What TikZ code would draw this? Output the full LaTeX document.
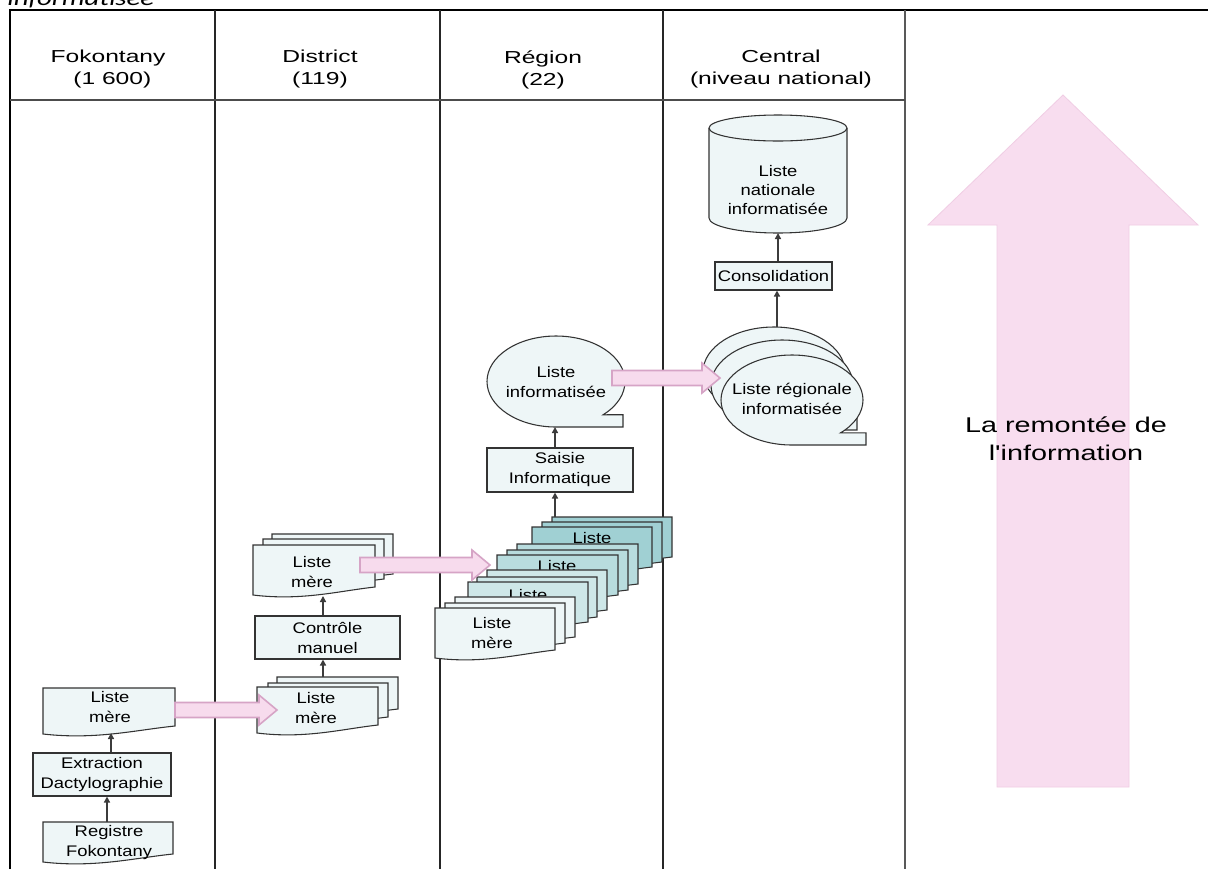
\documentclass[tikz,border=0pt]{standalone}
\usepackage{fontspec}
\setmainfont[FakeStretch=1.2]{Liberation Sans}
\newfontfamily\hdrfont[FakeStretch=1.42]{Liberation Sans}
\newfontfamily\bigfont[FakeStretch=1.35]{Liberation Sans}
\newfontfamily\capfont[FakeStretch=1.35]{Carlito}
\usetikzlibrary{arrows.meta}
\definecolor{boxfill}{RGB}{238,246,247}
\definecolor{stb}{RGB}{206,231,232}
\definecolor{stc}{RGB}{184,220,222}
\definecolor{std}{RGB}{160,208,211}
\definecolor{pinkfill}{RGB}{247,219,237}
\definecolor{pinkdraw}{RGB}{214,164,198}
\definecolor{bigpink}{RGB}{248,221,239}
\definecolor{bigpinkdraw}{RGB}{240,205,228}
\definecolor{linegray}{RGB}{60,60,60}
\newcommand\pxu{0.75pt}
% document sheet: left, top, width, height, fill
\newcommand\docsheet[5]{%
  \filldraw[shapeline, fill=#5] (#1,#2) -- ({#1+#3},#2) -- ({#1+#3},{#2+#4-8})
    .. controls ({#1+0.7*#3},{#2+#4-4}) and ({#1+0.4*#3},{#2+#4+6}) .. (#1,{#2+#4}) -- cycle;}
% tape shape: cx, cy, rx, ry, tail x, fill
\newcommand\tapeshape[6]{%
  \filldraw[shapeline, fill=#6] (#1,{#2+#4}) arc[start angle=90, end angle=407, x radius=#3, y radius=#4]
    -- (#5,{#2+0.731*#4}) -- (#5,{#2+#4}) -- cycle;}
% pink block arrow: x start, x end, y
\newcommand\pinkarrow[3]{%
  \filldraw[pinkarr] (#1,{#3-7.5}) -- ({#2-18},{#3-7.5}) -- ({#2-18},{#3-15}) -- (#2,#3)
    -- ({#2-18},{#3+15}) -- ({#2-18},{#3+7.5}) -- (#1,{#3+7.5}) -- cycle;}
\begin{document}
\begin{tikzpicture}[x=0.75pt,y=-0.75pt,
  shapeline/.style={draw=black!80, line width=0.8pt},
  boxtext/.style={font=\fontsize{11.5}{15}\selectfont, align=center, inner sep=0pt},
  procbox/.style={shapeline, fill=boxfill, align=center, inner sep=0pt, font=\fontsize{11.5}{15}\selectfont},
  hdr/.style={font=\hdrfont\fontsize{13}{16.5}\selectfont, align=center, inner sep=0pt},
  bigtext/.style={font=\bigfont\fontsize{16}{21}\selectfont, align=center, inner sep=0pt},
  arr/.style={draw=linegray, line width=1.4pt, -{Triangle[length=4.5pt,width=4.5pt]}},
  frame/.style={draw=black, line width=1.6pt},
  divider/.style={draw=black!85, line width=1.1pt},
  pinkarr/.style={fill=pinkfill, draw=pinkdraw, line width=1.2pt}]
\fill[white] (0,0) rectangle (1208,869);
\useasboundingbox (0,0) rectangle (1208,869);

% cut caption fragment at the top
\begin{scope}
  \clip (0,0) rectangle (600,9);
  \node[anchor=base west, inner sep=0pt, font=\capfont\itshape\fontsize{16}{18}\selectfont] (cap) at (7,5) {informatisée};
\end{scope}

% big pink arrow
\filldraw[fill=bigpink, draw=bigpinkdraw, line width=0.6pt] (997,787) -- (997,225) -- (928,225) -- (1063,95) -- (1198,225) -- (1129,225) -- (1129,787) -- cycle;
\node[bigtext] (remontee) at (1066,439) {La remontée de\\l'information};

% frame and swimlanes
\draw[frame] (10,869) -- (10,10) -- (1208,10);
\draw[divider] (215,10) -- (215,869);
\draw[divider] (440,10) -- (440,869);
\draw[divider] (663,10) -- (663,869);
\draw[draw=black!65, line width=1.6pt] (905,10) -- (905,869);
\draw[draw=black!70, line width=1.2pt] (10,100) -- (905,100);

% headers
\node[hdr] (hF) at (108,69.5) {Fokontany\\\hspace*{0.5em}(1~600)};
\node[hdr] (hD) at (320,69.5) {District\\(119)};
\node[hdr] (hR) at (543,69.5) {Région\\(22)};
\node[hdr] (hC) at (781,69.5) {Central\\(niveau national)};

% ---- Fokontany
\docsheet{43}{822}{130}{40}{boxfill}
\node[boxtext] (registre) at (109,842.5) {Registre\\Fokontany};
\coordinate (registre-top) at (107,822);
\node[procbox, minimum width={138*\pxu}, minimum height={43*\pxu}] (extraction) at (102,774.5) {Extraction\\Dactylographie};
\docsheet{43}{688}{132}{46}{boxfill}
\node[boxtext] (listeF) at (110,707.5) {Liste\\mère};
\coordinate (listeF-bot) at (111,733);

% ---- District
\docsheet{277}{677}{121}{40}{boxfill}
\docsheet{268}{683}{120}{42}{boxfill}
\docsheet{257}{687}{121}{46}{boxfill}
\node[boxtext] (listeDb) at (316,708) {Liste\\mère};
\coordinate (listeDb-top) at (323,677);
\node[procbox, minimum width={145*\pxu}, minimum height={43*\pxu}] (controle) at (327.5,637.5) {Contrôle\\manuel};
\docsheet{272}{534}{121}{48}{boxfill}
\docsheet{263}{539}{121}{48}{boxfill}
\docsheet{253}{545}{122}{50}{boxfill}
\node[boxtext] (listeDt) at (312,572) {Liste\\mère};
\coordinate (listeDt-bot) at (323,596);

% ---- Région (stack of lists, the back ones partly hidden)
\docsheet{552}{517}{120}{48}{std}
\docsheet{542}{522}{120}{48}{std}
\docsheet{532}{527}{120}{48}{std}
\node[boxtext] (listeR4) at (592,538) {Liste};
\docsheet{517}{544}{121}{48}{stc}
\docsheet{507}{550}{121}{48}{stc}
\docsheet{497}{555}{121}{48}{stc}
\node[boxtext] (listeR3) at (557,566) {Liste};
\docsheet{487}{570}{120}{48}{stb}
\docsheet{477}{577}{120}{48}{stb}
\docsheet{468}{582}{120}{48}{stb}
\node[boxtext] (listeR2) at (528,595) {Liste};
\docsheet{455}{597}{120}{48}{boxfill}
\docsheet{445}{603}{120}{48}{boxfill}
\docsheet{435}{608}{120}{50}{boxfill}
\node[boxtext] (listeR1) at (492,633) {Liste\\mère};
\coordinate (stackR-top) at (555,517);
\node[procbox, minimum width={146*\pxu}, minimum height={44*\pxu}] (saisie) at (560,470) {Saisie\\Informatique};
\tapeshape{556}{381.5}{69}{45.5}{623}{boxfill}
\node[boxtext] (listeinfo) at (556,382) {Liste\\informatisée};
\coordinate (listeinfo-bot) at (555,427);

% ---- Central
\tapeshape{774}{372}{71}{45}{849}{boxfill}
\tapeshape{782}{385}{71}{45}{857}{boxfill}
\tapeshape{792}{400}{71}{45}{866}{boxfill}
\node[boxtext] (listereg) at (792,399) {Liste régionale\\informatisée};
\coordinate (listereg-top) at (777,327);
\node[procbox, minimum width={117*\pxu}, minimum height={28*\pxu}] (consol) at (773.5,276) {Consolidation};
\filldraw[shapeline, fill=boxfill] (709,128) -- (709,218) arc[start angle=180, end angle=0, x radius=69, y radius=15]
  -- (847,128) arc[start angle=0, end angle=-180, x radius=69, y radius=13] -- cycle;
\draw[shapeline] (709,128) arc[start angle=180, end angle=0, x radius=69, y radius=13];
\node[boxtext, font=\fontsize{11.5}{14}\selectfont] (nationale) at (778,190) {Liste\\nationale\\informatisée};
\coordinate (nationale-bot) at (778,233);

% connectors
\draw[arr] (registre-top) -- (registre-top |- extraction.south);
\draw[arr] (listeF-bot |- extraction.north) -- (listeF-bot);
\draw[arr] (listeDb-top) -- (listeDb-top |- controle.south);
\draw[arr] (listeDt-bot |- controle.north) -- (listeDt-bot);
\draw[arr] (stackR-top) -- (stackR-top |- saisie.south);
\draw[arr] (listeinfo-bot |- saisie.north) -- (listeinfo-bot);
\draw[arr] (listereg-top) -- (listereg-top |- consol.south);
\draw[arr] (nationale-bot |- consol.north) -- (nationale-bot);

% pink transfer arrows
\coordinate (pa1) at (175,710); \coordinate (pb1) at (277,710);
\pinkarrow{175}{277}{710}
\coordinate (pa2) at (360,565); \coordinate (pb2) at (490,565);
\pinkarrow{360}{490}{565}
\coordinate (pa3) at (612,378); \coordinate (pb3) at (720,378);
\pinkarrow{612}{720}{378}
\end{tikzpicture}
\end{document}
